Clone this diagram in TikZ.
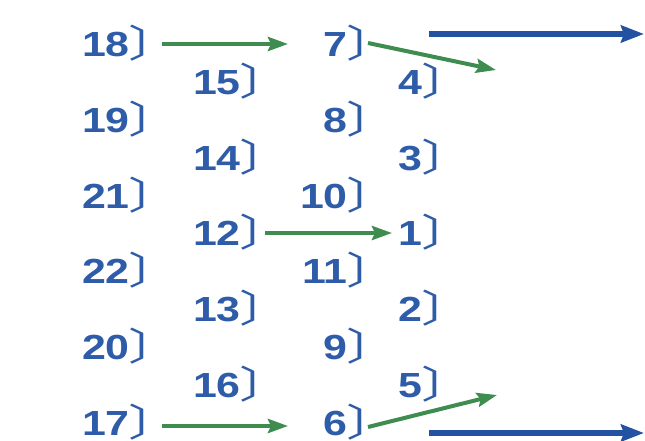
\documentclass[tikz,border=0pt]{standalone}
\usepackage{fontspec}
\setmainfont{Liberation Sans}[FakeStretch=1.23]
\newfontfamily\cjk{Noto Sans CJK SC}
\usetikzlibrary{arrows.meta}
\definecolor{tblue}{RGB}{46,92,168}
\definecolor{agreen}{RGB}{62,140,80}
\definecolor{ablue}{RGB}{36,82,162}
\newcommand\brk{\kern-1bp\makebox[14bp][l]{\cjk\mdseries\fontsize{38}{38}\selectfont\raisebox{-1bp}{\scalebox{1.4}[1]{〕}}}}
\tikzset{
  lab/.style={font=\fontsize{35}{35}\selectfont\bfseries, text=tblue, inner sep=0pt, anchor=base east},
  garrow/.style={draw=agreen, line width=4bp, -{Stealth[length=20bp,width=14bp,inset=3bp]}},
  barrow/.style={draw=ablue, line width=5.5bp, -{Stealth[length=23bp,width=17bp,inset=3bp]}}
}
\begin{document}
\begin{tikzpicture}[x=1bp,y=-1bp]
\useasboundingbox (0,0) rectangle (645,441);
% column 1
\node[lab] (n18) at (143,57.0) {18\brk};
\node[lab] (n19) at (143,132.6) {19\brk};
\node[lab] (n21) at (143,208.2) {21\brk};
\node[lab] (n22) at (143,283.8) {22\brk};
\node[lab] (n20) at (143,359.4) {20\brk};
\node[lab] (n17) at (143,435.0) {17\brk};
% column 2
\node[lab] (n15) at (254,94.8) {15\brk};
\node[lab] (n14) at (254,170.4) {14\brk};
\node[lab] (n12) at (254,246.0) {12\brk};
\node[lab] (n13) at (254,321.6) {13\brk};
\node[lab] (n16) at (254,397.2) {16\brk};
% column 3
\node[lab] (n7) at (361,57.0) {7\brk};
\node[lab] (n8) at (361,132.6) {8\brk};
\node[lab] (n10) at (361,208.2) {10\brk};
\node[lab] (n11) at (361,283.8) {11\brk};
\node[lab] (n9) at (361,359.4) {9\brk};
\node[lab] (n6) at (361,435.0) {6\brk};
% column 4
\node[lab] (n4) at (436,94.8) {4\brk};
\node[lab] (n3) at (436,170.4) {3\brk};
\node[lab] (n1) at (436,246.0) {1\brk};
\node[lab] (n2) at (436,321.6) {2\brk};
\node[lab] (n5) at (436,397.2) {5\brk};
% arrow ends
\coordinate (g1s) at (162,44);
\coordinate (g1e) at (288,44);
\coordinate (g2s) at (368,43);
\coordinate (g2e) at (496,70);
\coordinate (b1s) at (429,34);
\coordinate (b1e) at (644,34);
\coordinate (g3s) at (265,233);
\coordinate (g3e) at (392,233);
\coordinate (g4s) at (162,426);
\coordinate (g4e) at (288,426);
\coordinate (g5s) at (368,427);
\coordinate (g5e) at (497,395);
\coordinate (b2s) at (429,433);
\coordinate (b2e) at (644,433);
\draw[garrow] (g1s) -- (g1e);
\draw[garrow] (g2s) -- (g2e);
\draw[barrow] (b1s) -- (b1e);
\draw[garrow] (g3s) -- (g3e);
\draw[garrow] (g4s) -- (g4e);
\draw[garrow] (g5s) -- (g5e);
\draw[barrow] (b2s) -- (b2e);
\end{tikzpicture}
\end{document}
